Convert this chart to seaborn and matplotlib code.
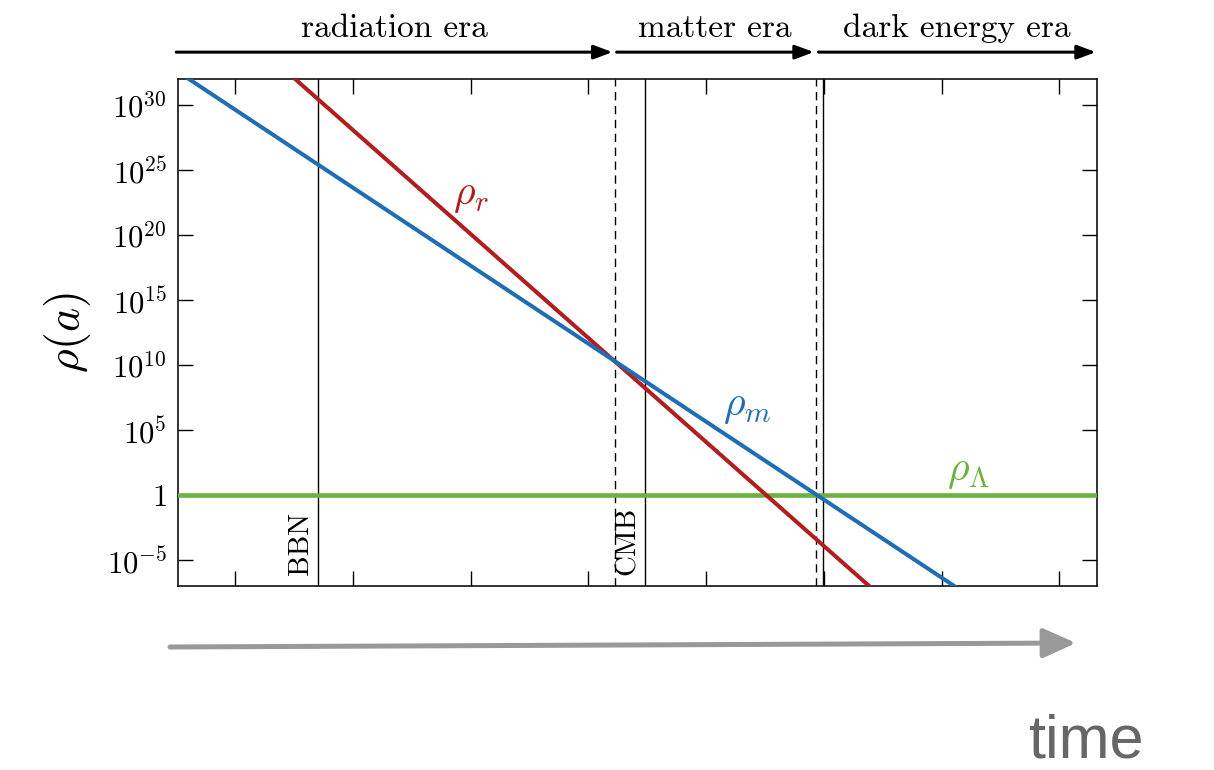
import matplotlib
matplotlib.use("Agg")
import numpy as np
import pandas as pd
import seaborn as sns
import matplotlib.pyplot as plt
from matplotlib.transforms import blended_transform_factory

# ---- data (log10 of scale factor a on x, energy density on y) ----
log_a = [-11.0, 4.7]
rho_radiation = [1.2e40, 1.9e-23]
rho_matter = [4.4e32, 3.5e-15]
rho_lambda = [1.0, 1.0]

event_names = ["BBN", "CMB"]
event_pos = [-8.6, -3.04]
today_pos = -0.01
equality_pos = [-3.55, -0.14]

era_names = ["radiation era", "matter era", "dark energy era"]
era_start = [-11.0, -3.52, -0.09]
era_end = [-3.59, -0.17, 4.62]

y_ticks = [1e-5, 1, 1e5, 1e10, 1e15, 1e20, 1e25, 1e30]
y_tick_labels = [r"$10^{-5}$", r"$1$", r"$10^{5}$", r"$10^{10}$", r"$10^{15}$",
                 r"$10^{20}$", r"$10^{25}$", r"$10^{30}$"]
x_ticks = [-10, -8, -6, -4, -2, 0, 2, 4]

RED = "#B21D1E"
BLUE = "#1F6EB5"
GREEN = "#6BB23F"

sns.set_style("ticks")
plt.rcParams["mathtext.fontset"] = "cm"
plt.rcParams["font.family"] = ["cmr10", "DejaVu Serif"]
plt.rcParams["axes.formatter.use_mathtext"] = True
plt.rcParams["text.color"] = "black"
plt.rcParams["axes.labelcolor"] = "black"
plt.rcParams["xtick.color"] = "black"
plt.rcParams["ytick.color"] = "black"

fig = plt.figure(figsize=(12.14, 7.7), dpi=100)
ax = fig.add_axes([178 / 1214, 1 - 586 / 770, (1097 - 178) / 1214, (586 - 79) / 770])

df = pd.DataFrame({
    "log_a": log_a * 3,
    "rho": rho_radiation + rho_matter + rho_lambda,
    "component": ["r"] * 2 + ["m"] * 2 + ["L"] * 2,
})

# vertical event lines
for xv in event_pos:
    ax.axvline(xv, color="black", lw=1.0, zorder=1)
ax.axvline(today_pos, color="black", lw=1.0, zorder=1)
for xv in equality_pos:
    ax.axvline(xv, color="black", lw=1.0, ls=(0, (6, 4)), zorder=1)

sns.lineplot(data=df[df.component == "L"], x="log_a", y="rho", color=GREEN, lw=3.3, ax=ax, zorder=3)
sns.lineplot(data=df[df.component == "r"], x="log_a", y="rho", color=RED, lw=2.9, ax=ax, zorder=3)
sns.lineplot(data=df[df.component == "m"], x="log_a", y="rho", color=BLUE, lw=2.9, ax=ax, zorder=4)

ax.set_yscale("log")
ax.set_xlim(-10.97, 4.64)
ax.set_ylim(1e-7, 1e32)
ax.set_yticks(y_ticks)
ax.set_yticklabels(y_tick_labels)
ax.set_xticks(x_ticks)
ax.set_xticklabels([])
ax.minorticks_off()
ax.tick_params(axis="both", which="major", direction="in", length=11, width=1.0,
               top=True, right=True, labelsize=22, pad=8, color="black")
ax.set_xlabel("")
ax.set_ylabel(r"$\rho(a)$", fontsize=33, labelpad=10)
for s in ax.spines.values():
    s.set_linewidth(1.2)
    s.set_color("#111111")

# component labels
ax.text(-6.0, 10**23.0, r"$\rho_r$", color=RED, fontsize=30, ha="center", va="center")
ax.text(-1.3, 10**6.73, r"$\rho_m$", color=BLUE, fontsize=30, ha="center", va="center")
ax.text(2.46, 10**1.76, r"$\rho_\Lambda$", color=GREEN, fontsize=30, ha="center", va="center")

# event labels
trans = blended_transform_factory(ax.transData, ax.transAxes)
for name, xv in zip(event_names, event_pos):
    ax.text(xv - 0.06, 0.022, name, rotation=90, ha="right", va="bottom",
            fontsize=21, transform=trans)

# era arrows
for name, x0, x1 in zip(era_names, era_start, era_end):
    ax.annotate("", xy=(x1, 1.053), xytext=(x0, 1.053), xycoords=trans, textcoords=trans,
                annotation_clip=False,
                arrowprops=dict(arrowstyle="-|>,head_length=0.75,head_width=0.28",
                                mutation_scale=15, lw=2.2, color="black",
                                shrinkA=0, shrinkB=0))
    ax.text((x0 + x1) / 2, 1.1, name, ha="center", va="center", fontsize=24,
            transform=trans, clip_on=False)

# time arrow
fig.patches.append(matplotlib.patches.FancyArrowPatch(
    (170 / 1214, 1 - 647 / 770), (1076 / 1214, 1 - 643 / 770),
    transform=fig.transFigure, arrowstyle="-|>,head_length=1.0,head_width=0.45",
    mutation_scale=20, lw=3.6, color="#999999", shrinkA=0, shrinkB=0))
fig.text(1086 / 1214, 1 - 757 / 770, "time", ha="center", va="baseline",
         fontsize=44, color="#666666", family=["Liberation Sans", "DejaVu Sans"])

fig.savefig("out.png", dpi=100)
